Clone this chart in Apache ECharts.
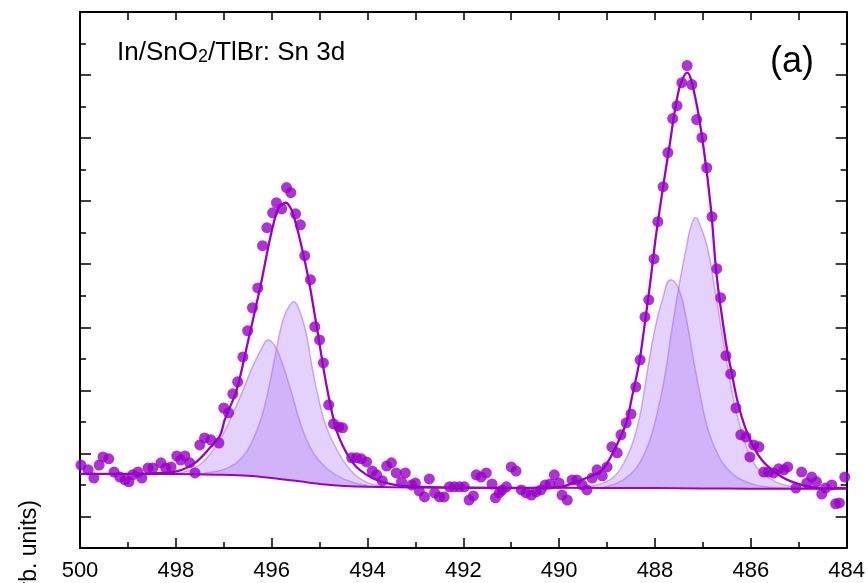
<!DOCTYPE html>
<html><head><meta charset="utf-8">
<script src="https://cdn.jsdelivr.net/npm/echarts@6.0.0/dist/echarts.min.js"></script>
<style>html,body{margin:0;padding:0;background:#fff}#c{width:868px;height:583px}</style>
</head><body><div id="c"></div>
<script>
// Binding energy (eV) and intensity (arb. units) of measured points
const scanE = [499.98,499.83,499.71,499.60,499.52,499.40,499.29,499.17,499.06,498.98,
498.90,498.79,498.71,498.58,498.48,498.31,498.21,498.10,497.98,497.90,
497.81,497.71,497.60,497.50,497.40,497.27,497.10,497.00,496.90,496.81,
496.71,496.60,496.50,496.40,496.29,496.19,496.10,495.98,495.90,495.79,
495.69,495.60,495.50,495.40,495.31,495.19,495.10,495.00,494.92,494.81,
494.71,494.60,494.52,494.33,494.23,494.13,494.02,493.90,493.81,493.69,
493.60,493.50,493.40,493.29,493.21,493.08,493.00,492.92,492.81,492.71,
492.60,492.50,492.40,492.29,492.19,492.08,491.98,491.88,491.79,491.73,
491.63,491.52,491.40,491.33,491.25,491.19,491.10,491.00,490.90,490.79,
490.69,490.58,490.48,490.38,490.29,490.19,490.10,490.00,489.94,489.83,
489.73,489.63,489.52,489.42,489.31,489.21,489.10,489.00,488.90,488.79,
488.71,488.60,488.50,488.40,488.31,488.21,488.13,488.02,487.94,487.83,
487.73,487.63,487.54,487.44,487.33,487.23,487.13,487.02,486.92,486.81,
486.71,486.63,486.52,486.42,486.31,486.21,486.10,486.02,485.94,485.83,
485.73,485.63,485.52,485.42,485.31,485.23,485.06,484.94,484.83,484.73,
484.63,484.52,484.44,484.31,484.23,484.15,484.04];
const scanI = [2.63,2.48,2.22,2.63,2.89,2.83,2.41,2.25,2.16,2.10,
2.32,2.41,2.22,2.54,2.54,2.70,2.54,2.57,2.92,2.79,
2.92,2.70,2.38,3.27,3.49,3.43,3.33,4.44,4.29,4.89,
5.27,6.06,6.89,7.62,8.25,9.59,10.16,10.63,10.95,10.76,
11.43,11.27,10.60,10.25,9.27,8.51,7.02,6.60,5.87,4.54,
3.94,3.84,3.81,2.86,2.86,2.83,2.73,2.44,2.32,2.13,
2.60,2.70,2.38,2.10,2.38,2.00,2.06,1.81,1.62,2.19,
1.75,1.62,1.62,1.94,1.94,1.94,1.94,1.52,1.65,2.32,
2.25,2.38,2.03,1.59,1.75,1.84,1.94,2.57,2.44,1.84,
1.75,1.68,1.78,1.84,2.00,2.03,2.32,2.06,1.68,1.52,
2.16,2.16,2.00,1.84,2.22,2.48,2.29,2.57,3.21,3.02,
3.59,3.97,4.25,5.11,5.97,7.33,7.87,9.17,10.35,11.46,
12.54,13.62,14.03,14.76,15.30,14.70,13.59,13.02,12.06,10.51,
8.86,7.94,6.10,5.52,4.44,3.59,3.52,2.89,3.27,3.21,
2.41,2.41,2.38,2.51,2.48,2.57,1.90,2.41,2.06,2.25,
2.10,1.71,1.90,2.00,1.40,1.43,2.25];

// Fitted envelope
const fitE = [500.00,498.96,498.31,497.96,497.60,497.27,497.08,496.98,496.73,496.50,
496.25,495.90,495.71,495.56,495.27,495.06,494.85,494.65,494.44,494.23,
493.90,493.60,493.27,492.50,490.83,490.00,489.65,489.38,489.10,488.85,
488.60,488.48,488.33,488.23,488.10,487.98,487.83,487.71,487.50,487.33,
487.15,486.98,486.83,486.71,486.52,486.40,486.25,486.04,485.77,485.35,
484.94,484.52,484.00];
const fitI = [2.35,2.35,2.38,2.44,2.70,3.21,3.56,4.06,5.02,6.51,
8.19,10.63,10.95,10.63,8.83,7.02,5.11,3.75,3.02,2.57,
2.22,2.06,1.97,1.92,1.90,1.93,2.10,2.25,2.48,3.11,
3.97,4.79,5.87,6.92,8.41,9.90,11.46,12.63,14.54,15.08,
14.22,12.63,10.73,8.60,6.51,5.56,4.48,3.52,2.79,2.25,
2.00,1.90,1.90];

// Shirley background
const bgE = [500.0,498.0,497.0,496.5,496.0,495.5,495.0,494.5,494.0,493.0,490.0,488.0,487.0,486.0,484.0];
const bgI = [2.35,2.35,2.32,2.29,2.22,2.13,2.03,1.97,1.94,1.92,1.91,1.90,1.89,1.88,1.88];

// Components, Sn 3d3/2 region
const aE = [498.0,497.6,497.3,497.0,496.8,496.6,496.4,496.2,496.08,495.95,495.8,495.6,495.4,495.2,495.0,494.7,494.3,493.8];
const aI = [2.36,2.55,2.95,3.65,4.30,5.00,5.75,6.35,6.60,6.45,5.95,5.00,3.95,3.20,2.75,2.35,2.08,1.95];
const bE = [497.7,497.2,496.9,496.6,496.4,496.2,496.05,495.9,495.75,495.6,495.54,495.45,495.3,495.15,495.0,494.85,494.65,494.4,494.1,493.7];
const bI = [2.33,2.42,2.55,2.90,3.40,4.20,5.15,6.30,7.30,7.75,7.81,7.65,6.95,5.70,4.60,3.80,3.15,2.55,2.15,1.95];
// Components, Sn 3d5/2 region
const cE = [489.6,489.1,488.8,488.6,488.45,488.3,488.15,488.0,487.85,487.67,487.5,487.35,487.2,487.05,486.9,486.7,486.45,486.1,485.6,485.2];
const cI = [1.92,2.05,2.35,2.85,3.40,4.30,5.70,6.95,7.85,8.51,8.20,7.30,6.00,4.80,3.80,3.00,2.45,2.10,1.93,1.90];
const dE = [489.2,488.8,488.5,488.3,488.1,487.95,487.8,487.65,487.5,487.35,487.25,487.15,487.05,486.9,486.75,486.6,486.45,486.3,486.1,485.9,485.6,485.3,484.8];
const dI = [1.90,2.05,2.35,2.75,3.45,4.30,5.40,6.90,8.30,9.50,10.20,10.48,10.20,9.50,8.20,6.80,5.45,4.30,3.25,2.60,2.20,2.00,1.90];

const xTicks = [484,486,488,490,492,494,496,498,500];

const pairs = (xs, ys) => xs.map((x, i) => [x, ys[i]]);
const FONT = 'Arial, "Liberation Sans", Helvetica, sans-serif';
const PURPLE = '#9900c8';
const lineSt = {color:'#000', width:2};
const tickSt = {color:'#000', width:1.5};

const chart = echarts.init(document.getElementById('c'), null, {renderer:'canvas'});

function comp(name, xs, ys, origin){
  return {type:'line', name, data:pairs(xs, ys), smooth:0.45, symbol:'none', silent:true,
    lineStyle:{color:'rgba(165,105,245,0.55)', width:1.5},
    areaStyle:{color:'rgba(172,115,245,0.46)', origin:origin}, z:1};
}
function yAx(pos, inverse, len, showLine){
  return {type:'value', position:pos, min:0, max:17, interval:2, inverse:inverse,
    axisLine:{show:showLine, lineStyle:lineSt},
    axisTick:{show:true, inside:true, length:len, lineStyle:tickSt},
    axisLabel:{show:false}, splitLine:{show:false}, z:5};
}

chart.setOption({
  animation:false,
  backgroundColor:'#fff',
  textStyle:{fontFamily:FONT},
  grid:{left:80, right:20, top:12, bottom:35},
  xAxis:[
    {type:'value', position:'bottom', min:xTicks[0], max:xTicks[xTicks.length-1], interval:2, inverse:true,
     axisLine:{show:true, onZero:false, lineStyle:lineSt},
     axisTick:{show:true, inside:true, length:10, lineStyle:tickSt},
     minorTick:{show:true, splitNumber:2, length:6, lineStyle:tickSt},
     axisLabel:{show:true, fontSize:22, color:'#000', fontFamily:FONT, margin:12},
     splitLine:{show:false}, minorSplitLine:{show:false}, z:5},
    {type:'value', position:'top', min:484, max:500, interval:1, inverse:true,
     axisLine:{show:true, onZero:false, lineStyle:lineSt},
     axisTick:{show:true, inside:true, length:8, lineStyle:tickSt},
     axisLabel:{show:false}, splitLine:{show:false}, z:5}
  ],
  yAxis:[
    yAx('left', false, 6, true),
    yAx('left', true, 11, false),
    yAx('right', false, 6, true),
    yAx('right', true, 11, false)
  ],
  series:[
    comp('comp A', aE, aI, 1.85),
    comp('comp B', bE, bI, 1.85),
    comp('comp C', cE, cI, 1.85),
    comp('comp D', dE, dI, 1.85),
    {type:'line', name:'mask', data:pairs(bgE, bgI), smooth:0.3, symbol:'none', silent:true,
     lineStyle:{width:0, opacity:0}, areaStyle:{color:'#ffffff', opacity:1, origin:1.8}, z:2},
    {type:'line', name:'background', data:pairs(bgE, bgI), smooth:0.3, symbol:'none',
     lineStyle:{color:PURPLE, width:2}, z:6},
    {type:'line', name:'fit', data:pairs(fitE, fitI), smooth:0.35, symbol:'none',
     lineStyle:{color:PURPLE, width:2.3}, z:6},
    {type:'scatter', name:'data', data:pairs(scanE, scanI), symbol:'circle', symbolSize:11,
     itemStyle:{color:PURPLE}, z:7}
  ],
  graphic:[
    {type:'text', x:117, y:53, z:10, style:{
      text:'{m|In/SnO}{s|2}{m|/TlBr: Sn 3d}', fill:'#000', align:'left', verticalAlign:'middle',
      rich:{m:{fontSize:26, lineHeight:26, fontFamily:FONT, fill:'#000'},
            s:{fontSize:18, lineHeight:14, verticalAlign:'bottom', fontFamily:FONT, fill:'#000'}}}},
    {type:'text', x:814, y:62, z:10, style:{text:'(a)', fontSize:36, fontFamily:FONT, fill:'#000',
      align:'right', verticalAlign:'middle'}},
    {type:'text', x:30, y:500, rotation:Math.PI/2, z:10, style:{text:'Intensity (arb. units)',
      fontSize:23, fontFamily:FONT, fill:'#000', align:'right', verticalAlign:'middle'}}
  ]
});
</script></body></html>
